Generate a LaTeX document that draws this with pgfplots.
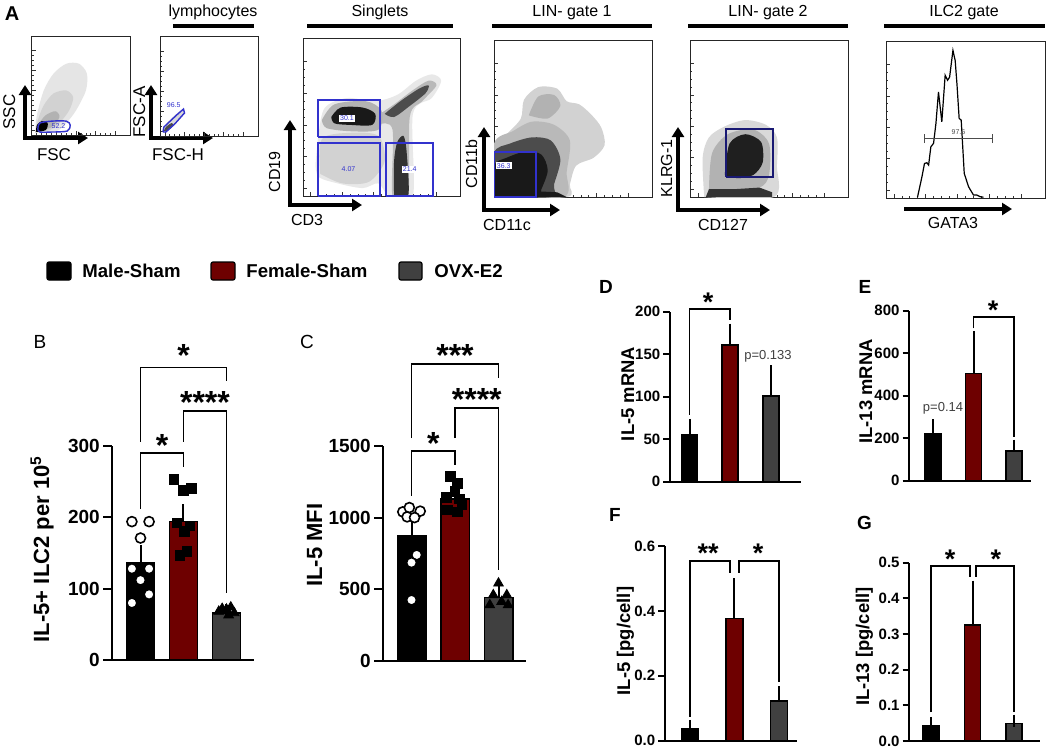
\documentclass[border=0pt]{standalone}
\usepackage{fontspec}
\setmainfont{Liberation Sans}
\usepackage{pgfplots}
\pgfplotsset{compat=1.18}
\usetikzlibrary{arrows.meta}
\definecolor{fred}{RGB}{110,0,0}
\definecolor{fgray}{RGB}{64,64,64}
\definecolor{gateblue}{RGB}{50,50,205}
\definecolor{gatenavy}{RGB}{25,25,115}
\newcommand{\fs}[1]{\fontsize{#1}{#1}\selectfont}
\pgfplotsset{
  barax/.style={scale only axis, anchor=south west, clip=false,
    axis x line*=bottom, axis y line*=left,
    axis line style={-, line width=1pt, black},
    xtick=\empty, ymin=0,
    tick align=outside, major tick length=4.5pt,
    tick style={line width=1pt, black},
    yticklabel style={font=\bfseries\fs{9.5}, anchor=east, inner sep=0pt, xshift=-1.4pt}},
  smallbar/.style={major tick length=3.3pt,
    yticklabel style={font=\bfseries\fs{7.5}}},
  flowax/.style={scale only axis, anchor=north west,
    xmin=0,xmax=100,ymin=0,ymax=100,
    axis line style={line width=0.5pt, black!85},
    tick pos=left, tick align=inside,
    xtick={5,25,45,65,85}, ytick={5,25,45,65,85},
    xticklabel=\empty, yticklabel=\empty,
    major tick length=2pt, minor tick num=3, minor tick length=1pt,
    tick style={line width=0.4pt, black!80}},
  mbar/.style={ybar, bar shift=0pt, draw=black, line width=0.75pt,
    error bars/y dir=plus, error bars/y explicit,
    error bars/error bar style={draw=black, line width=1pt},
    error bars/error mark options={draw=black, line width=1pt, mark size=3pt}},
  brk/.style={black, line width=0.9pt},
  circ/.style={only marks, mark=*, mark size=2.5pt, mark options={fill=white, draw=black, line width=0.8pt}},
  sqr/.style={only marks, mark=square*, mark size=2.4pt, black},
  tri/.style={only marks, mark=triangle*, mark size=2.8pt, black},
  gate/.style={gateblue, line width=0.7pt},
}
\tikzset{
  star/.style={font=\bfseries\fs{16}, inner sep=0pt, yshift=-3.2pt},
  sstar/.style={font=\bfseries\fs{13.5}, inner sep=0pt, yshift=-2.7pt},
  glab/.style={font=\fs{3.5}, text=gateblue, inner sep=0.5pt},
  farrow/.style={line width=1.6pt, {Triangle[length=5pt,width=6pt]}-{Triangle[length=5pt,width=6pt]}},
}
\begin{document}
\begin{tikzpicture}
\begin{scope}[x=0.5pt,y=-0.5pt]
\fill[white] (0,0) rectangle (1048,751);
\path[use as bounding box] (0,0) rectangle (1048,751);
\coordinate (p1) at (32,36);
\coordinate (p2) at (160,36);
\coordinate (p3) at (303,38);
\coordinate (p4) at (494,40);
\coordinate (p5) at (690,40);
\coordinate (p6) at (886,41);
\coordinate (pB) at (112,660);
\coordinate (pC) at (383,660.7);
\coordinate (pD) at (670,481.7);
\coordinate (pE) at (909.3,480.7);
\coordinate (pF) at (665,740.7);
\coordinate (pG) at (909.3,741);
% panel A decorations
\node[font=\bfseries\fs{10}] at (12,14) {A};
\node[anchor=base, font=\fs{8}] at (213,16.5) {lymphocytes};
\node[anchor=base, font=\fs{8}] at (380,16.5) {Singlets};
\node[anchor=base, font=\fs{8}] at (572,16.5) {LIN- gate 1};
\node[anchor=base, font=\fs{8}] at (768,16.5) {LIN- gate 2};
\node[anchor=base, font=\fs{8}] at (964,16.5) {ILC2 gate};
\draw[line width=1.8pt] (173,26) -- (254,26);
\draw[line width=1.8pt] (307,26) -- (453,26);
\draw[line width=1.8pt] (492,26) -- (652,26);
\draw[line width=1.8pt] (688,26) -- (848,26);
\draw[line width=1.8pt] (884,26) -- (1045,26);
\draw[farrow] (25,85) -- (25,138) -- (88,138);
\draw[farrow] (151,85) -- (151,138) -- (213,138);
\draw[farrow] (290,120) -- (290,205) -- (362,205);
\draw[farrow] (484,127) -- (484,210) -- (560,210);
\draw[farrow] (678,127) -- (678,210) -- (770,210);
\draw[line width=1.6pt, -{Triangle[length=5pt,width=6pt]}] (904,209) -- (1012,209);
\node[rotate=90, anchor=base, font=\fs{8.5}] at (15,112) {SSC};
\node[anchor=base, font=\fs{8.5}] at (54,160) {FSC};
\node[rotate=90, anchor=base, font=\fs{8.5}] at (145,112) {FSC-A};
\node[anchor=base, font=\fs{8.5}] at (178,160) {FSC-H};
\node[rotate=90, anchor=base, font=\fs{8}] at (280,172) {CD19};
\node[anchor=base, font=\fs{8}] at (307,225) {CD3};
\node[rotate=90, anchor=base, font=\fs{8}] at (477,164) {CD11b};
\node[anchor=base, font=\fs{8}] at (507,230) {CD11c};
\node[rotate=90, anchor=base, font=\fs{8}] at (672,168.5) {KLRG-1};
\node[anchor=base, font=\fs{8}] at (723,230) {CD127};
\node[anchor=base, font=\fs{8}] at (953,228) {GATA3};
% legend
\draw[black, line width=0.6pt, fill=black, rounded corners=1pt] (47,262) rectangle (71,280);
\draw[black, line width=0.6pt, fill=fred, rounded corners=1pt] (211,262) rectangle (235,280);
\draw[black, line width=0.6pt, fill=fgray, rounded corners=1pt] (399,262) rectangle (422,280);
\node[anchor=west, inner sep=0pt, font=\bfseries\fs{9.3}] at (82,271) {Male-Sham};
\node[anchor=west, inner sep=0pt, font=\bfseries\fs{9.3}] at (246,271) {Female-Sham};
\node[anchor=west, inner sep=0pt, font=\bfseries\fs{9.3}] at (434,271) {OVX-E2};
% panel letters
\node[font=\fs{9.5}] at (40,341.5) {B};
\node[font=\fs{9.5}] at (307,341.5) {C};
\node[font=\bfseries\fs{9.5}] at (606,287) {D};
\node[font=\bfseries\fs{9.5}] at (865,287) {E};
\node[font=\bfseries\fs{9.5}] at (615,515) {F};
\node[font=\bfseries\fs{9.5}] at (864.5,523) {G};
% y labels
\node[rotate=90, anchor=base, font=\bfseries\fs{11}] at (49,549) {IL-5+ ILC2 per 10\textsuperscript{5}};
\node[rotate=90, anchor=base, font=\bfseries\fs{11}] at (322,545) {IL-5 MFI};
\node[rotate=90, anchor=base, font=\bfseries\fs{9.2}] at (634,394) {IL-5 mRNA};
\node[rotate=90, anchor=base, font=\bfseries\fs{9.2}] at (872,391.5) {IL-13 mRNA};
\node[rotate=90, anchor=base, font=\bfseries\fs{9.2}] at (630,641) {IL-5 [pg/cell]};
\node[rotate=90, anchor=base, font=\bfseries\fs{9.2}] at (869,646.5) {IL-13 [pg/cell]};
\node[anchor=base, font=\fs{6.5}, text=black!75] at (768,359) {p=0.133};
\node[anchor=base, font=\fs{6.5}, text=black!75] at (943,411) {p=0.14};
\end{scope}

% ---------- Panel A flow plots ----------
\begin{axis}[flowax, at={(p1)}, width=49pt, height=49.5pt]
\addplot[fill=gray!20, draw=none, smooth] coordinates {(3,2)(5,20)(12,45)(22,62)(35,72)(48,72)(56,62)(55,45)(45,25)(35,12)(25,4)(3,2)};
\addplot[fill=gray!35, draw=none, smooth] coordinates {(4,3)(6,15)(12,30)(22,42)(35,45)(42,38)(38,25)(28,12)(18,5)(4,3)};
\addplot[fill=gray!60, draw=none, smooth] coordinates {(4,3)(6,10)(14,20)(24,24)(28,18)(20,8)(4,3)};
\addplot[fill=black, draw=none, smooth] coordinates {(4,3)(5,10)(10,14)(16,12)(14,5)(4,3)};
\addplot[gate, smooth] coordinates {(6,6)(8,12)(20,14)(35,14)(39,10)(36,4)(20,3)(8,3)(6,6)};
\node[glab] at (axis cs:27,9) {52.2};
\end{axis}

\begin{axis}[flowax, at={(p2)}, width=49pt, height=50pt]
\addplot[fill=gray!30, draw=none, smooth] coordinates {(3,4)(4,9)(12,18)(22,26)(25,24)(18,15)(8,5)(3,4)};
\addplot[fill=black!70, draw=none, smooth] coordinates {(4,5)(6,9)(12,13)(13,10)(7,5)(4,5)};
\addplot[gate] coordinates {(3,4)(4,9)(17,21)(24,27)(25,23)(15,12)(6,4)(3,4)};
\node[glab] at (axis cs:14,31) {96.5};
\end{axis}

\begin{axis}[flowax, at={(p3)}, width=78.5pt, height=79pt]
\addplot[fill=gray!18, draw=none, smooth] coordinates {(8,20)(10,40)(14,56)(28,62)(46,60)(60,64)(72,73)(82,77)(88,73)(82,62)(70,52)(70,0)(55,0)(48,8)(38,5)(22,8)(10,12)(8,20)};
\addplot[fill=gray!35, draw=none, smooth] coordinates {(11,14)(12,36)(30,40)(48,38)(52,22)(42,9)(25,8)(11,14)};
\addplot[fill=gray!55, draw=none, smooth] coordinates {(46,50)(58,58)(70,67)(80,73)(85,70)(76,60)(68,50)(67,0)(57,0)(57,42)(48,46)(46,50)};
\addplot[fill=black!70, draw=none, smooth] coordinates {(52,52)(62,60)(74,68)(80,70)(78,65)(68,57)(58,50)(52,52)};
\addplot[fill=gray!60, draw=none, smooth] coordinates {(12,48)(20,58)(40,60)(50,54)(48,42)(30,41)(15,43)(12,48)};
\addplot[fill=black!90, draw=none, smooth] coordinates {(18,50)(24,56)(38,56)(46,52)(44,45)(30,45)(20,46)(18,50)};
\addplot[fill=black!80, draw=none, smooth] coordinates {(58,0)(58,22)(60,34)(64,38)(66,28)(67,0)(58,0)};
\addplot[gate] coordinates {(9.55,37.3)(49,37.3)(49,60.8)(9.55,60.8)(9.55,37.3)};
\addplot[gate] coordinates {(9.55,0)(49,0)(49,33.5)(9.55,33.5)(9.55,0)};
\addplot[gate] coordinates {(52.9,0)(82.8,0)(82.8,33.5)(52.9,33.5)(52.9,0)};
\node[glab, fill=white] at (axis cs:28,49) {30.1};
\node[glab] at (axis cs:29,17) {4.07};
\node[glab, fill=white] at (axis cs:68,17) {21.4};
\end{axis}

\begin{axis}[flowax, at={(p4)}, width=79pt, height=78.5pt]
\addplot[fill=gray!35, draw=none, smooth] coordinates {(0,0)(0,32)(8,40)(17,50)(19,62)(28,70)(40,69)(46,61)(54,59)(62,52)(68,44)(70,33)(63,25)(52,20)(48,8)(46,0)(0,0)};
\addplot[fill=gray!55, draw=none, smooth] coordinates {(0,0)(0,34)(12,42)(24,48)(38,46)(48,36)(46,16)(44,0)(0,0)};
\addplot[fill=gray!60, draw=none, smooth] coordinates {(22,52)(28,64)(38,65)(42,58)(34,50)(22,52)};
\addplot[fill=black!70, draw=none, smooth] coordinates {(0,0)(0,28)(10,34)(24,38)(36,36)(42,24)(38,8)(36,0)(0,0)};
\addplot[fill=black!90, draw=none, smooth] coordinates {(0,0)(0,20)(8,25)(20,29)(30,27)(34,17)(30,5)(27,0)(0,0)};
\addplot[fill=black!90, draw=none] coordinates {(0,0)(0,4)(20,4)(40,3)(46,0)(0,0)};
\addplot[gate] coordinates {(0,0)(26.6,0)(26.6,28.7)(0,28.7)(0,0)};
\node[glab, fill=white, anchor=west] at (axis cs:1,20) {36.3};
\end{axis}

\begin{axis}[flowax, at={(p5)}, width=79pt, height=78.5pt]
\addplot[fill=gray!30, draw=none, smooth] coordinates {(9,0)(8,25)(12,38)(22,45)(35,49)(48,46)(55,38)(55,20)(53,0)(9,0)};
\addplot[fill=gray!60, draw=none, smooth] coordinates {(12,5)(14,28)(24,40)(40,43)(50,34)(50,14)(44,6)(25,4)(12,5)};
\addplot[fill=black!88, draw=none, smooth] coordinates {(22,14)(25,34)(35,40)(45,35)(46,22)(40,14)(30,12)(22,14)};
\addplot[fill=black!80, draw=none] coordinates {(10,0)(12,5)(28,5)(44,6)(52,3)(52,0)(10,0)};
\addplot[gatenavy, line width=0.8pt] coordinates {(22.8,12.7)(52.5,12.7)(52.5,43.3)(22.8,43.3)(22.8,12.7)};
\end{axis}

\begin{axis}[flowax, at={(p6)}, width=79.5pt, height=78.5pt]
\addplot[black, line width=0.6pt] coordinates {(19.8,0.5)(22.6,13.5)(24.2,22)(25.7,22.5)(26.8,21)(28.2,32.6)(29.9,34.8)(31.4,47.5)(33,67.6)(35.1,48.5)(37.2,78.2)(38.7,75)(40,77)(42.1,94)(43.5,87.6)(44.6,72.9)(46,50.7)(47.3,49.6)(49.2,15.7)(51.9,7.2)(55,1.9)(57.1,1.9)(59.2,0.8)(61.3,0.5)};
\addplot[black!70, line width=0.6pt] coordinates {(24,38)(67.2,38)};
\addplot[black!70, line width=0.6pt] coordinates {(24,35)(24,41)};
\addplot[black!70, line width=0.6pt] coordinates {(67.2,35)(67.2,41)};
\node[font=\fs{3.5}, text=black!70, inner sep=0.5pt] at (axis cs:45.6,42) {97.6};
\end{axis}

% ---------- Panel B ----------
\begin{axis}[barax, at={(pB)}, width=71pt, height=107pt, xmin=-0.663, xmax=2.64, ymax=300,
  ytick={0,100,200,300}, yticklabels={0,100,200,300}]
\addplot[mbar, fill=black, bar width=14pt] coordinates {(0,136) +- (0,17)};
\addplot[mbar, fill=fred, bar width=14pt] coordinates {(1,194) +- (0,16)};
\addplot[mbar, fill=fgray, bar width=14pt] coordinates {(2,66) +- (0,4)};
\addplot[circ] coordinates {(-0.2,194)(0.2,194)(0,171)(-0.2,128)(0.2,128)(0,112)(0.2,92)(-0.2,80)};
\addplot[sqr] coordinates {(0.78,253)(1,238)(1.19,241)(0.85,192)(1.15,188)(1.02,180)(0.92,147)(1.08,152)};
\addplot[tri] coordinates {(1.82,68)(1.9,72)(2,71)(2.1,74)(2.18,66)(2.05,63)};
\addplot[brk] coordinates {(0,306)(0,410)(2,410)(2,391)};
\addplot[brk] coordinates {(1,306)(1,349)(2,349)(2,94)};
\addplot[brk] coordinates {(0,212)(0,290)(1,290)(1,271)};
\node[star] at (axis cs:1,436) {*};
\node[star] at (axis cs:1.5,370) {****};
\node[star] at (axis cs:0.5,310) {*};
\end{axis}

% ---------- Panel C ----------
\begin{axis}[barax, at={(pC)}, width=71.5pt, height=107.35pt, xmin=-0.655, xmax=2.632, ymax=1500,
  ytick={0,500,1000,1500}, yticklabels={0,500,1000,1500}]
\addplot[mbar, fill=black, bar width=14.25pt] coordinates {(0,871) +- (0,89)};
\addplot[mbar, fill=fred, bar width=14.25pt] coordinates {(1,1130) +- (0,35)};
\addplot[mbar, fill=fgray, bar width=14.25pt] coordinates {(2,440) +- (0,40)};
\addplot[circ] coordinates {(-0.2,1040)(-0.05,1070)(0.2,1045)(-0.1,1005)(0.07,1000)(0.12,739)(0,685)(0,424)};
\addplot[sqr] coordinates {(0.9,1286)(1.05,1240)(1,1181)(0.8,1140)(1.1,1130)(0.82,1053)(1.05,1040)(1.16,1090)};
\addplot[tri] coordinates {(2,541)(1.88,459)(2.19,459)(1.8,389)(2.07,412)(2.22,389)};
\addplot[brk] coordinates {(0,1556)(0,2071)(2,2071)(2,1975)};
\addplot[brk] coordinates {(1,1556)(1,1766)(2,1766)(2,634)};
\addplot[brk] coordinates {(0,1151)(0,1465)(1,1465)(1,1367)};
\node[star] at (axis cs:1,2174) {***};
\node[star] at (axis cs:1.5,1870) {****};
\node[star] at (axis cs:0.5,1560) {*};
\end{axis}

% ---------- Panel D ----------
\begin{axis}[barax, smallbar, at={(pD)}, width=65.4pt, height=85pt, xmin=-0.48, xmax=2.74, ymax=200,
  ytick={0,50,100,150,200}, yticklabels={0,50,100,150,200}]
\addplot[mbar, fill=black, bar width=8pt] coordinates {(0,55) +- (0,12)};
\addplot[mbar, fill=fred, bar width=8pt] coordinates {(1,161) +- (0,18)};
\addplot[mbar, fill=fgray, bar width=8pt] coordinates {(2,101) +- (0,29)};
\addplot[brk] coordinates {(0,78.6)(0,203)(1,203)(1,190.6)};
\node[sstar] at (axis cs:0.46,217) {*};
\end{axis}

% ---------- Panel E ----------
\begin{axis}[barax, smallbar, at={(pE)}, width=60.7pt, height=85pt, xmin=-0.584, xmax=2.41, ymax=800,
  ytick={0,200,400,600,800}, yticklabels={0,200,400,600,800}]
\addplot[mbar, fill=black, bar width=8pt] coordinates {(0,223) +- (0,39)};
\addplot[mbar, fill=fred, bar width=8pt] coordinates {(1,505) +- (0,170)};
\addplot[mbar, fill=fgray, bar width=8pt] coordinates {(2,140) +- (0,25)};
\addplot[brk] coordinates {(1,717)(1,772)(2,772)(2,207)};
\node[sstar] at (axis cs:1.48,827) {*};
\end{axis}

% ---------- Panel F ----------
\begin{axis}[barax, smallbar, at={(pF)}, width=65.85pt, height=97.35pt, xmin=-0.56, xmax=2.40, ymax=0.6,
  ytick={0,0.2,0.4,0.6}, yticklabels={0.0,0.2,0.4,0.6}]
\addplot[mbar, fill=black, bar width=8.5pt] coordinates {(0,0.038) +- (0,0.008)};
\addplot[mbar, fill=fred, bar width=8.5pt] coordinates {(1,0.377) +- (0,0.105)};
\addplot[mbar, fill=fgray, bar width=8.5pt] coordinates {(2,0.122) +- (0,0.027)};
\addplot[brk] coordinates {(0,0.074)(0,0.555)(0.9,0.555)(0.9,0.518)};
\addplot[brk] coordinates {(1.1,0.518)(1.1,0.555)(2,0.555)(2,0.182)};
\node[sstar] at (axis cs:0.41,0.594) {**};
\node[sstar] at (axis cs:1.53,0.594) {*};
\end{axis}

% ---------- Panel G ----------
\begin{axis}[barax, smallbar, at={(pG)}, width=65.1pt, height=89.15pt, xmin=-0.52, xmax=2.61, ymax=0.5,
  ytick={0,0.1,0.2,0.3,0.4,0.5}, yticklabels={0.0,0.1,0.2,0.3,0.4,0.5}]
\addplot[mbar, fill=black, bar width=8pt] coordinates {(0,0.044) +- (0,0.007)};
\addplot[mbar, fill=fred, bar width=8pt] coordinates {(1,0.325) +- (0,0.108)};
\addplot[mbar, fill=fgray, bar width=8pt] coordinates {(2,0.049) +- (0,0.008)};
\addplot[brk] coordinates {(0,0.081)(0,0.491)(0.94,0.491)(0.94,0.461)};
\addplot[brk] coordinates {(1.08,0.461)(1.08,0.491)(2,0.491)(2,0.081)};
\node[sstar] at (axis cs:0.46,0.526) {*};
\node[sstar] at (axis cs:1.56,0.526) {*};
\end{axis}
\end{tikzpicture}
\end{document}
